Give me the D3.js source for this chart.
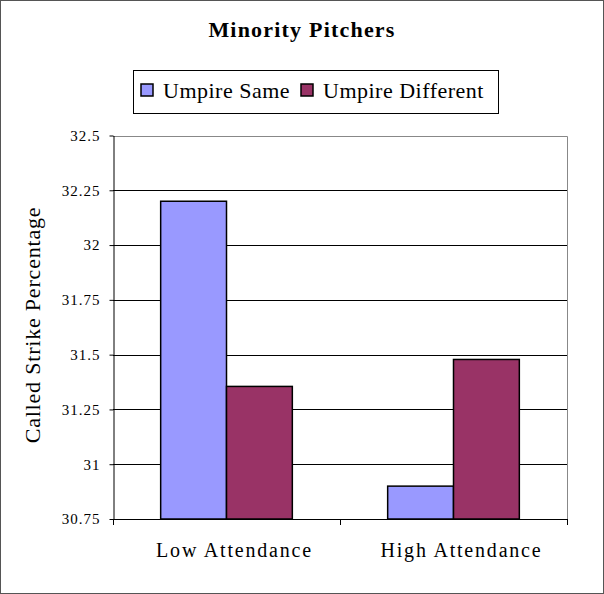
<!DOCTYPE html>
<html>
<head>
<meta charset="utf-8">
<script src="https://cdn.jsdelivr.net/npm/d3@7"></script>
<style>
  body { margin: 0; background: #fff; }
  text { font-family: "Liberation Serif", "Times New Roman", serif; fill: #000; }
</style>
</head>
<body>
<div id="chart"></div>
<script>
var categories = ["Low Attendance", "High Attendance"];
var seriesNames = ["Umpire Same", "Umpire Different"];
var umpireSame = [32.2, 30.9];
var umpireDifferent = [31.355, 31.478];
var yTicks = [30.75, 31, 31.25, 31.5, 31.75, 32, 32.25, 32.5];

var width = 604, height = 594;
var colors = ["#9999ff", "#993366"];

var svg = d3.select("#chart").append("svg")
  .attr("width", width)
  .attr("height", height);

// outer frame
svg.append("rect")
  .attr("x", 0.5).attr("y", 0.5)
  .attr("width", width - 1).attr("height", height - 1)
  .attr("fill", "#fff").attr("stroke", "#555");

var plotLeft = 113, plotRight = 567, plotTop = 135.5, plotBottom = 519;

var x0 = d3.scaleBand().domain(categories).range([plotLeft, plotRight]).paddingInner(0.42).paddingOuter(0.21);
var x1 = d3.scaleBand().domain(seriesNames).range([0, x0.bandwidth()]);
var y = d3.scaleLinear().domain([30.75, 32.5]).range([plotBottom, plotTop]);

// plot border (top & right)
svg.append("path")
  .attr("d", "M" + plotLeft + "," + (Math.round(plotTop) + 0.5) + "H" + (plotRight + 0.5) + "V" + plotBottom)
  .attr("fill", "none").attr("stroke", "#888");

// gridlines
svg.append("g").selectAll("line")
  .data(yTicks.slice(1, -1))
  .enter().append("line")
  .attr("x1", plotLeft).attr("x2", plotRight)
  .attr("y1", function(d) { return Math.round(y(d)) + 0.5; })
  .attr("y2", function(d) { return Math.round(y(d)) + 0.5; })
  .attr("stroke", "#000").attr("stroke-width", 1);

var rows = categories.map(function(c, i) {
  return { cat: c, values: [umpireSame[i], umpireDifferent[i]] };
});

var groups = svg.append("g").selectAll("g")
  .data(rows)
  .enter().append("g")
  .attr("transform", function(d) { return "translate(" + x0(d.cat) + ",0)"; });

groups.selectAll("rect")
  .data(function(d) { return d.values.map(function(v, j) { return { s: seriesNames[j], v: v, j: j }; }); })
  .enter().append("rect")
  .attr("x", function(d) { return x1(d.s); })
  .attr("y", function(d) { return y(d.v); })
  .attr("width", x1.bandwidth())
  .attr("height", function(d) { return plotBottom - y(d.v); })
  .attr("fill", function(d) { return colors[d.j]; })
  .attr("stroke", "#000").attr("stroke-width", 1.5);

// y axis
var yAxis = svg.append("g")
  .attr("transform", "translate(" + (plotLeft + 0.5) + ",0)")
  .call(d3.axisLeft(y).tickValues(yTicks).tickSize(4).tickPadding(9).tickSizeOuter(0)
    .tickFormat(function(d) { return String(d); }));
yAxis.selectAll("text")
  .attr("font-family", "Liberation Serif")
  .attr("font-size", 15).attr("letter-spacing", 1);
yAxis.select(".domain").attr("stroke", "#000");

// x axis
var xAxis = svg.append("g")
  .attr("transform", "translate(0," + plotBottom + ")");
xAxis.append("line")
  .attr("x1", plotLeft).attr("x2", plotRight).attr("y1", 0.5).attr("y2", 0.5)
  .attr("stroke", "#000");
xAxis.selectAll(".xtick")
  .data([plotLeft, (plotLeft + plotRight) / 2, plotRight])
  .enter().append("line")
  .attr("class", "xtick")
  .attr("x1", function(d) { return Math.round(d) + 0.5; })
  .attr("x2", function(d) { return Math.round(d) + 0.5; })
  .attr("y1", 0).attr("y2", 6)
  .attr("stroke", "#000");
xAxis.selectAll(".xlabel")
  .data(categories)
  .enter().append("text")
  .attr("class", "xlabel")
  .attr("x", function(d) { return x0(d) + x0.bandwidth() / 2; })
  .attr("dx", 8)
  .attr("y", 38)
  .attr("text-anchor", "middle")
  .attr("font-size", 20)
  .attr("letter-spacing", 1.8)
  .text(function(d) { return d; });

// title
svg.append("text")
  .attr("x", 302).attr("y", 37)
  .attr("text-anchor", "middle")
  .attr("font-size", 22).attr("font-weight", "bold")
  .attr("letter-spacing", 1.2)
  .text("Minority Pitchers");

// y label
svg.append("text")
  .attr("transform", "translate(40,325) rotate(-90)")
  .attr("text-anchor", "middle")
  .attr("font-size", 22)
  .attr("letter-spacing", 0.8)
  .text("Called Strike Percentage");

// legend
var legend = svg.append("g");
legend.append("rect")
  .attr("x", 133.5).attr("y", 70.5).attr("width", 365).attr("height", 43)
  .attr("fill", "#fff").attr("stroke", "#000");
var legendX = [141, 301];
seriesNames.forEach(function(s, i) {
  var lx = legendX[i];
  legend.append("rect")
    .attr("x", lx).attr("y", 84).attr("width", 12).attr("height", 12)
    .attr("fill", colors[i]).attr("stroke", "#000").attr("stroke-width", 1.5);
  legend.append("text")
    .attr("x", lx + 22).attr("y", 98)
    .attr("font-size", 22)
    .attr("letter-spacing", 0.5)
    .text(s);
});
</script>
</body>
</html>
